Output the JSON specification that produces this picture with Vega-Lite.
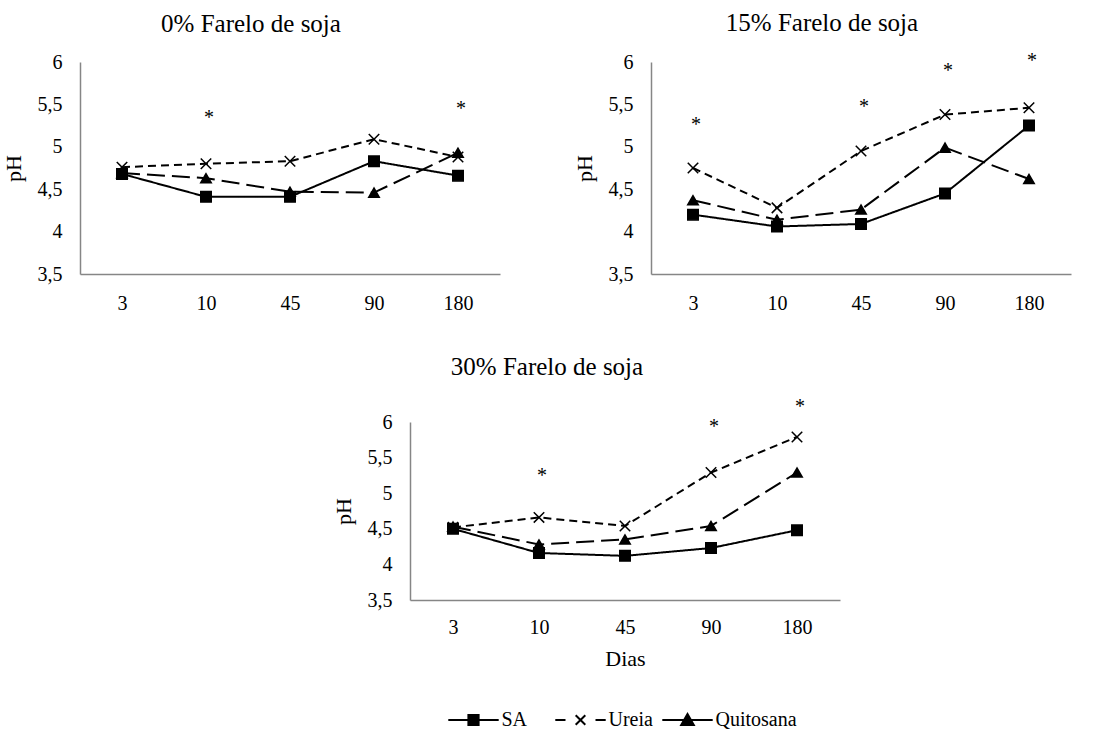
{
  "$schema": "https://vega.github.io/schema/vega-lite/v6.json",
  "background": "white",
  "padding": {"left": 2, "top": 11, "right": 5, "bottom": 2},
  "config": {
    "font": "Liberation Serif",
    "view": {"stroke": null}
  },
  "datasets": {
    "ph": [
      {"painel": "0%", "dia": "3", "serie": "SA", "ph": 4.68},
      {"painel": "0%", "dia": "10", "serie": "SA", "ph": 4.41},
      {"painel": "0%", "dia": "45", "serie": "SA", "ph": 4.41},
      {"painel": "0%", "dia": "90", "serie": "SA", "ph": 4.83},
      {"painel": "0%", "dia": "180", "serie": "SA", "ph": 4.66},
      {"painel": "0%", "dia": "3", "serie": "Ureia", "ph": 4.76},
      {"painel": "0%", "dia": "10", "serie": "Ureia", "ph": 4.80},
      {"painel": "0%", "dia": "45", "serie": "Ureia", "ph": 4.83},
      {"painel": "0%", "dia": "90", "serie": "Ureia", "ph": 5.09},
      {"painel": "0%", "dia": "180", "serie": "Ureia", "ph": 4.88},
      {"painel": "0%", "dia": "3", "serie": "Quitosana", "ph": 4.69},
      {"painel": "0%", "dia": "10", "serie": "Quitosana", "ph": 4.63},
      {"painel": "0%", "dia": "45", "serie": "Quitosana", "ph": 4.47},
      {"painel": "0%", "dia": "90", "serie": "Quitosana", "ph": 4.46},
      {"painel": "0%", "dia": "180", "serie": "Quitosana", "ph": 4.93},
      {"painel": "15%", "dia": "3", "serie": "SA", "ph": 4.20},
      {"painel": "15%", "dia": "10", "serie": "SA", "ph": 4.06},
      {"painel": "15%", "dia": "45", "serie": "SA", "ph": 4.09},
      {"painel": "15%", "dia": "90", "serie": "SA", "ph": 4.45},
      {"painel": "15%", "dia": "180", "serie": "SA", "ph": 5.25},
      {"painel": "15%", "dia": "3", "serie": "Ureia", "ph": 4.75},
      {"painel": "15%", "dia": "10", "serie": "Ureia", "ph": 4.28},
      {"painel": "15%", "dia": "45", "serie": "Ureia", "ph": 4.95},
      {"painel": "15%", "dia": "90", "serie": "Ureia", "ph": 5.38},
      {"painel": "15%", "dia": "180", "serie": "Ureia", "ph": 5.46},
      {"painel": "15%", "dia": "3", "serie": "Quitosana", "ph": 4.37},
      {"painel": "15%", "dia": "10", "serie": "Quitosana", "ph": 4.14},
      {"painel": "15%", "dia": "45", "serie": "Quitosana", "ph": 4.26},
      {"painel": "15%", "dia": "90", "serie": "Quitosana", "ph": 4.99},
      {"painel": "15%", "dia": "180", "serie": "Quitosana", "ph": 4.62},
      {"painel": "30%", "dia": "3", "serie": "SA", "ph": 4.50},
      {"painel": "30%", "dia": "10", "serie": "SA", "ph": 4.16},
      {"painel": "30%", "dia": "45", "serie": "SA", "ph": 4.12},
      {"painel": "30%", "dia": "90", "serie": "SA", "ph": 4.23},
      {"painel": "30%", "dia": "180", "serie": "SA", "ph": 4.48},
      {"painel": "30%", "dia": "3", "serie": "Ureia", "ph": 4.52},
      {"painel": "30%", "dia": "10", "serie": "Ureia", "ph": 4.66},
      {"painel": "30%", "dia": "45", "serie": "Ureia", "ph": 4.54},
      {"painel": "30%", "dia": "90", "serie": "Ureia", "ph": 5.29},
      {"painel": "30%", "dia": "180", "serie": "Ureia", "ph": 5.79},
      {"painel": "30%", "dia": "3", "serie": "Quitosana", "ph": 4.53},
      {"painel": "30%", "dia": "10", "serie": "Quitosana", "ph": 4.28},
      {"painel": "30%", "dia": "45", "serie": "Quitosana", "ph": 4.35},
      {"painel": "30%", "dia": "90", "serie": "Quitosana", "ph": 4.54},
      {"painel": "30%", "dia": "180", "serie": "Quitosana", "ph": 5.29}
    ],
    "ast": [
      {"painel": "0%", "dia": "10", "ph": 5.41},
      {"painel": "0%", "dia": "180", "ph": 5.52},
      {"painel": "15%", "dia": "3", "ph": 5.33},
      {"painel": "15%", "dia": "45", "ph": 5.54},
      {"painel": "15%", "dia": "90", "ph": 5.97},
      {"painel": "15%", "dia": "180", "ph": 6.08},
      {"painel": "30%", "dia": "10", "ph": 5.33},
      {"painel": "30%", "dia": "90", "ph": 6.01},
      {"painel": "30%", "dia": "180", "ph": 6.30}
    ],
    "legenda": [
      {"serie": "SA"},
      {"serie": "Ureia"},
      {"serie": "Quitosana"}
    ]
  },
  "spacing": 41,
  "vconcat": [
    {
      "spacing": 73,
      "hconcat": [
        {
          "width": 420, "height": 212,
          "title": {"text": "0% Farelo de soja", "offset": 15, "font": "Liberation Serif", "fontSize": 25, "fontWeight": "normal", "color": "black", "anchor": "middle", "frame": "bounds"},
          "encoding": {
            "x": {"field": "dia", "type": "ordinal", "sort": ["3", "10", "45", "90", "180"], "scale": {"type": "point", "padding": 0.5}, "axis": {"title": null, "labelAngle": 0, "grid": false, "ticks": false, "domainColor": "#868686", "domainWidth": 1.5, "labelFont": "Liberation Serif", "labelFontSize": 20, "labelColor": "black", "labelPadding": 19}},
            "y": {"field": "ph", "type": "quantitative", "scale": {"domain": [3.5, 6], "nice": false, "zero": false}, "axis": {"title": "pH", "values": [3.5, 4, 4.5, 5, 5.5, 6], "labelExpr": "replace(format(datum.value, '~g'), '.', ',')", "grid": false, "ticks": false, "domainColor": "#868686", "domainWidth": 1.5, "labelFont": "Liberation Serif", "labelFontSize": 20, "labelColor": "black", "labelPadding": 18, "labelOverlap": false, "titleFont": "Liberation Serif", "titleFontSize": 22, "titleFontWeight": "normal", "titleColor": "black", "titlePadding": 12}}
          },
          "layer": [
            {
              "data": {"name": "ph"}, "transform": [{"filter": "datum.painel == '0%'"}],
              "mark": {"type": "line", "color": "black", "strokeWidth": 2},
              "encoding": {
                "strokeDash": {"field": "serie", "type": "nominal", "scale": {"domain": ["SA", "Ureia", "Quitosana"], "range": [[1, 0], [8, 5], [18, 7]]}, "legend": null}
              }
            },
            {
              "data": {"name": "ph"}, "transform": [{"filter": "datum.painel == '0%'"}],
              "mark": {"type": "point", "filled": true, "color": "black", "fill": "black", "stroke": "black", "strokeWidth": 1.5, "opacity": 1, "size": 110},
              "encoding": {
                "shape": {"condition": [{"test": "datum.serie == 'SA'", "value": "square"}, {"test": "datum.serie == 'Ureia'", "value": "M-1,-1L1,1M-1,1L1,-1"}], "value": "triangle-up"}
              }
            },
            {
              "data": {"name": "ast"}, "transform": [{"filter": "datum.painel == '0%'"}],
              "mark": {"type": "text", "text": "*", "font": "Liberation Serif", "fontSize": 20, "baseline": "alphabetic", "dy": 12, "dx": 3, "color": "black", "fill": "black"}
            }
          ]
        },
        {
          "width": 420, "height": 212,
          "title": {"text": "15% Farelo de soja", "offset": 15, "font": "Liberation Serif", "fontSize": 25, "fontWeight": "normal", "color": "black", "anchor": "middle", "frame": "bounds"},
          "encoding": {
            "x": {"field": "dia", "type": "ordinal", "sort": ["3", "10", "45", "90", "180"], "scale": {"type": "point", "padding": 0.5}, "axis": {"title": null, "labelAngle": 0, "grid": false, "ticks": false, "domainColor": "#868686", "domainWidth": 1.5, "labelFont": "Liberation Serif", "labelFontSize": 20, "labelColor": "black", "labelPadding": 19}},
            "y": {"field": "ph", "type": "quantitative", "scale": {"domain": [3.5, 6], "nice": false, "zero": false}, "axis": {"title": "pH", "values": [3.5, 4, 4.5, 5, 5.5, 6], "labelExpr": "replace(format(datum.value, '~g'), '.', ',')", "grid": false, "ticks": false, "domainColor": "#868686", "domainWidth": 1.5, "labelFont": "Liberation Serif", "labelFontSize": 20, "labelColor": "black", "labelPadding": 18, "labelOverlap": false, "titleFont": "Liberation Serif", "titleFontSize": 22, "titleFontWeight": "normal", "titleColor": "black", "titlePadding": 12}}
          },
          "layer": [
            {
              "data": {"name": "ph"}, "transform": [{"filter": "datum.painel == '15%'"}],
              "mark": {"type": "line", "color": "black", "strokeWidth": 2},
              "encoding": {
                "strokeDash": {"field": "serie", "type": "nominal", "scale": {"domain": ["SA", "Ureia", "Quitosana"], "range": [[1, 0], [8, 5], [18, 7]]}, "legend": null}
              }
            },
            {
              "data": {"name": "ph"}, "transform": [{"filter": "datum.painel == '15%'"}],
              "mark": {"type": "point", "filled": true, "color": "black", "fill": "black", "stroke": "black", "strokeWidth": 1.5, "opacity": 1, "size": 110},
              "encoding": {
                "shape": {"condition": [{"test": "datum.serie == 'SA'", "value": "square"}, {"test": "datum.serie == 'Ureia'", "value": "M-1,-1L1,1M-1,1L1,-1"}], "value": "triangle-up"}
              }
            },
            {
              "data": {"name": "ast"}, "transform": [{"filter": "datum.painel == '15%'"}],
              "mark": {"type": "text", "text": "*", "font": "Liberation Serif", "fontSize": 20, "baseline": "alphabetic", "dy": 12, "dx": 3, "color": "black", "fill": "black"}
            }
          ]
        }
      ]
    },
    {
      "spacing": 0,
      "hconcat": [
        {
          "width": 252, "height": 10,
          "data": {"values": [{"k": 1}]},
          "mark": {"type": "point", "opacity": 0},
          "encoding": {}
        },
        {
          "width": 430, "height": 178,
          "title": {"text": "30% Farelo de soja", "offset": 17, "dx": -39, "font": "Liberation Serif", "fontSize": 25, "fontWeight": "normal", "color": "black", "anchor": "middle", "frame": "bounds"},
          "encoding": {
            "x": {"field": "dia", "type": "ordinal", "sort": ["3", "10", "45", "90", "180"], "scale": {"type": "point", "padding": 0.5}, "axis": {"title": "Dias", "labelAngle": 0, "grid": false, "ticks": false, "domainColor": "#868686", "domainWidth": 1.5, "labelFont": "Liberation Serif", "labelFontSize": 20, "labelColor": "black", "labelPadding": 17, "titleFont": "Liberation Serif", "titleFontSize": 22, "titleFontWeight": "normal", "titleColor": "black", "titlePadding": 11}},
            "y": {"field": "ph", "type": "quantitative", "scale": {"domain": [3.5, 6], "nice": false, "zero": false}, "axis": {"title": "pH", "values": [3.5, 4, 4.5, 5, 5.5, 6], "labelExpr": "replace(format(datum.value, '~g'), '.', ',')", "grid": false, "ticks": false, "domainColor": "#868686", "domainWidth": 1.5, "labelFont": "Liberation Serif", "labelFontSize": 20, "labelColor": "black", "labelPadding": 18, "labelOverlap": false, "titleFont": "Liberation Serif", "titleFontSize": 22, "titleFontWeight": "normal", "titleColor": "black", "titlePadding": 12}}
          },
          "layer": [
            {
              "data": {"name": "ph"}, "transform": [{"filter": "datum.painel == '30%'"}],
              "mark": {"type": "line", "color": "black", "strokeWidth": 2},
              "encoding": {
                "strokeDash": {"field": "serie", "type": "nominal", "scale": {"domain": ["SA", "Ureia", "Quitosana"], "range": [[1, 0], [8, 5], [18, 7]]}, "legend": null}
              }
            },
            {
              "data": {"name": "ph"}, "transform": [{"filter": "datum.painel == '30%'"}],
              "mark": {"type": "point", "filled": true, "color": "black", "fill": "black", "stroke": "black", "strokeWidth": 1.5, "opacity": 1, "size": 110},
              "encoding": {
                "shape": {"condition": [{"test": "datum.serie == 'SA'", "value": "square"}, {"test": "datum.serie == 'Ureia'", "value": "M-1,-1L1,1M-1,1L1,-1"}], "value": "triangle-up"}
              }
            },
            {
              "data": {"name": "ast"}, "transform": [{"filter": "datum.painel == '30%'"}],
              "mark": {"type": "text", "text": "*", "font": "Liberation Serif", "fontSize": 20, "baseline": "alphabetic", "dy": 12, "dx": 3, "color": "black", "fill": "black"}
            }
          ]
        }
      ]
    },
    {
      "spacing": 0,
      "hconcat": [
        {
          "width": 340, "height": 10,
          "data": {"values": [{"k": 1}]},
          "mark": {"type": "point", "opacity": 0},
          "encoding": {}
        },
        {
          "width": 321, "height": 16,
          "data": {"name": "legenda"},
          "encoding": {
            "x": {"field": "serie", "type": "nominal", "sort": ["SA", "Ureia", "Quitosana"], "scale": {"type": "point", "padding": 0.5}, "axis": null}
          },
          "layer": [
            {
              "mark": {"type": "point", "filled": true, "color": "black", "fill": "black", "stroke": "black", "strokeWidth": 2, "opacity": 1, "size": 144},
              "encoding": {
                "shape": {"condition": [{"test": "datum.serie == 'SA'", "value": "M-4.2,0H4.2M-0.85,-0.85H0.85V0.85H-0.85Z"}, {"test": "datum.serie == 'Ureia'", "value": "M-4.2,0H-2.5M2.5,0H4.2M-0.8,-0.8L0.8,0.8M-0.8,0.8L0.8,-0.8"}], "value": "M-4.2,0H4.2M0,-1L1.05,0.85H-1.05Z"}
              }
            },
            {
              "mark": {"type": "text", "align": "left", "baseline": "middle", "dx": 28, "font": "Liberation Serif", "fontSize": 20, "color": "black", "fill": "black"},
              "encoding": {
                "text": {"field": "serie", "type": "nominal"}
              }
            }
          ]
        }
      ]
    }
  ]
}
